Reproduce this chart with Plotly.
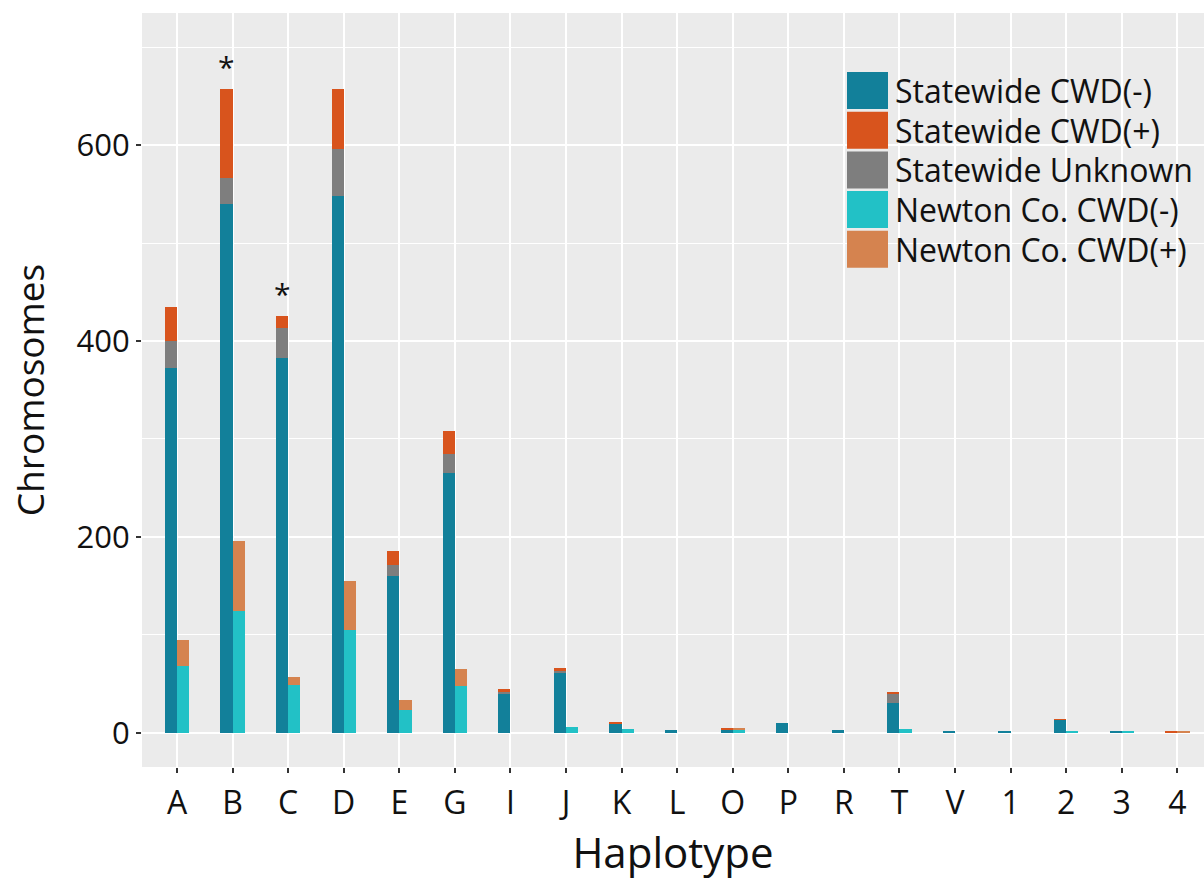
import plotly.graph_objects as go

categories = ["A", "B", "C", "D", "E", "G", "I", "J", "K", "L", "O", "P", "R", "T", "V", "1", "2", "3", "4"]
sw_neg = [372, 540, 383, 548, 160, 265, 40, 61, 9, 3, 3, 10, 3, 30, 1, 1, 13, 2, 0]
sw_unk = [28, 27, 30, 48, 11, 20, 2, 2, 0, 0, 0, 0, 0, 10, 0, 0, 0, 0, 0]
sw_pos = [35, 90, 13, 61, 15, 23, 3, 3, 1, 0, 1, 0, 0, 2, 0, 0, 1, 0, 1]
nc_neg = [68, 124, 49, 105, 23, 48, 0, 6, 4, 0, 3, 0, 0, 4, 0, 0, 2, 2, 0]
nc_pos = [27, 72, 8, 50, 10, 17, 0, 0, 0, 0, 1, 0, 0, 0, 0, 0, 0, 0, 1]
starred = ["B", "C"]

labels = ["Statewide CWD(-)", "Statewide CWD(+)", "Statewide Unknown",
          "Newton Co. CWD(-)", "Newton Co. CWD(+)"]
colors = {"Statewide CWD(-)": "#12809a", "Statewide CWD(+)": "#d8541d",
          "Statewide Unknown": "#7e7e7e", "Newton Co. CWD(-)": "#22c1c6",
          "Newton Co. CWD(+)": "#d5834f"}

FONT = "Open Sans"
W, H = 1204, 880
L, R, T, B = 142, 0, 13, 113

fig = go.Figure()

def add_stack(series, offset):
    base = [0] * len(categories)
    for name, vals in series:
        fig.add_trace(go.Bar(
            x=categories, y=vals, base=list(base), name=name,
            marker=dict(color=colors[name], line=dict(width=0)),
            width=0.22, offset=offset, showlegend=False,
        ))
        base = [b + v for b, v in zip(base, vals)]
    return base

sw_tot = add_stack([("Statewide CWD(-)", sw_neg), ("Statewide Unknown", sw_unk),
                    ("Statewide CWD(+)", sw_pos)], -0.22)
add_stack([("Newton Co. CWD(-)", nc_neg), ("Newton Co. CWD(+)", nc_pos)], 0.0)

# asterisks
for c in starred:
    i = categories.index(c)
    fig.add_annotation(x=c, y=sw_tot[i], xshift=-6, yshift=0, text="*",
                       showarrow=False, yanchor="bottom",
                       font=dict(family=FONT, size=30, color="#111"))

# custom legend (large keys like ggplot)
pw, ph = W - L - R, H - T - B
def px_x(p):
    return (p - L) / pw
def px_y(p):
    return (H - B - p) / ph
key_left, key_right = 847, 888
row_top0, pitch, key_h = 72, 39.7, 37
for k, name in enumerate(labels):
    top = row_top0 + k * pitch
    fig.add_shape(type="rect", xref="paper", yref="paper",
                  x0=px_x(key_left), x1=px_x(key_right),
                  y0=px_y(top + key_h), y1=px_y(top),
                  fillcolor=colors[name], line=dict(width=0), layer="above")
    fig.add_annotation(xref="paper", yref="paper", x=px_x(894), y=px_y(top + key_h / 2),
                       text=name, showarrow=False, xanchor="left", yanchor="middle",
                       borderpad=0,
                       font=dict(family=FONT, size=32, color="#111"))

fig.update_layout(
    width=W, height=H,
    margin=dict(l=L, r=R, t=T, b=B, autoexpand=False),
    paper_bgcolor="white", plot_bgcolor="#ebebeb",
    barmode="overlay", bargap=0,
    font=dict(family=FONT, color="#111"),
    showlegend=False,
)
fig.update_xaxes(
    type="category", range=[-0.63, 18.48], automargin=False,
    showgrid=True, gridcolor="white", gridwidth=1.5,
    ticks="outside", ticklen=5, tickwidth=1.5, tickcolor="#333",
    ticklabelstandoff=3,
    tickfont=dict(family=FONT, size=32, color="#111"),
    title=dict(text="Haplotype", font=dict(family=FONT, size=42, color="#111"), standoff=10),
    zeroline=False, showline=False,
)
fig.update_yaxes(
    range=[-35, 735], tickvals=[0, 200, 400, 600], automargin=False,
    showgrid=True, gridcolor="white", gridwidth=1.6,
    minor=dict(dtick=100, tick0=0, showgrid=True, gridcolor="white", gridwidth=0.7, ticks=""),
    ticks="outside", ticklen=5, tickwidth=1.5, tickcolor="#333",
    tickfont=dict(family=FONT, size=31, color="#111"),
    title=dict(text="Chromosomes", font=dict(family=FONT, size=37, color="#111"), standoff=20),
    zeroline=False, showline=False,
)

fig.write_html("out.html", config={"displayModeBar": False},
               post_script="document.body.style.margin='0';")
